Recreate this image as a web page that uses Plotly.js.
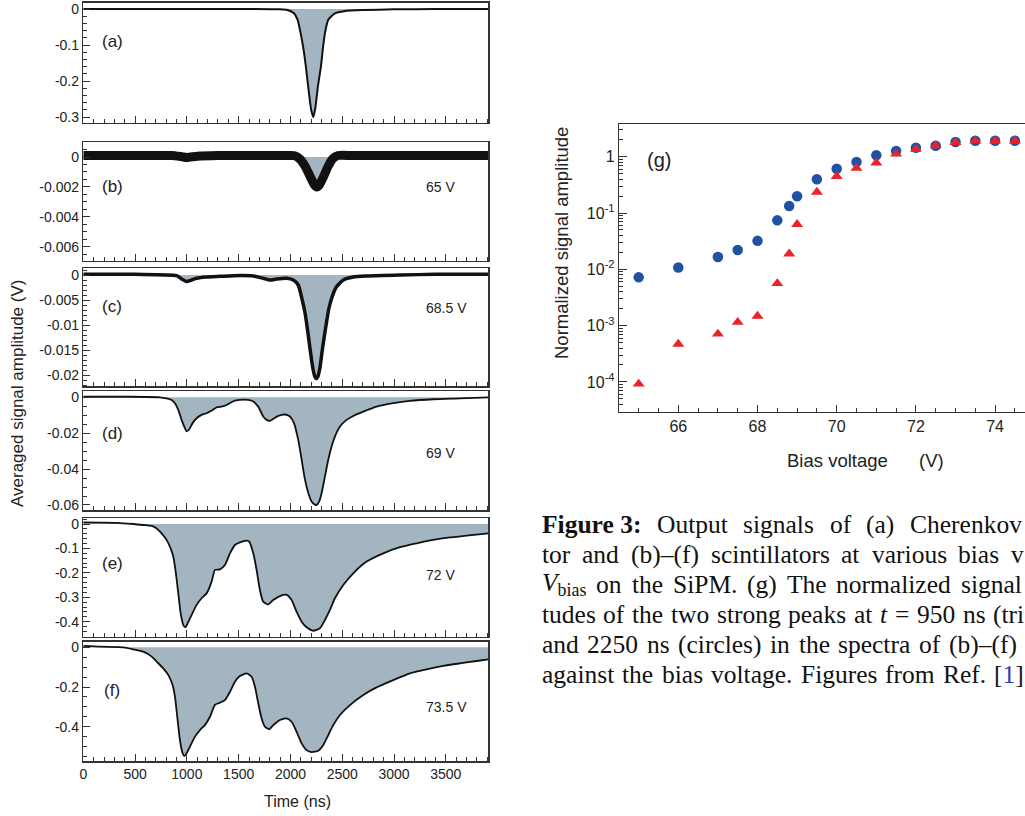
<!DOCTYPE html>
<html><head><meta charset="utf-8">
<script src="https://cdn.plot.ly/plotly-3.0.1.min.js"></script>
<style>html,body{margin:0;padding:0;background:#fff;overflow:hidden}#chart{width:1025px;height:816px}</style>
</head><body><div id="chart"></div>
<script>
// ---------- data: panels (a)-(f), time in ns, amplitude in V ----------
const timeA = [0, 400, 800, 1200, 1600, 1900, 1970, 2034, 2069, 2098, 2125, 2149, 2175, 2200, 2220, 2240, 2265, 2294, 2315, 2333, 2365, 2429, 2520, 2700, 3000, 3400, 3910];
const ampA  = [0, 0, 0, 0, 0, -0.001, -0.003, -0.012, -0.03, -0.067, -0.11, -0.16, -0.225, -0.28, -0.30, -0.275, -0.215, -0.16, -0.105, -0.067, -0.03, -0.012, -0.006, -0.003, -0.001, 0, 0];

const timeB = [0, 500, 850, 950, 1000, 1100, 1300, 1700, 2000, 2040, 2090, 2140, 2190, 2230, 2255, 2280, 2320, 2365, 2410, 2460, 2600, 3000, 3500, 3910];
const ampB  = [0.0001, 0.0001, 0.0001, 0.00002, -0.00003, 0.00005, 0.0001, 0.0001, 0.0001, 0.00008, -0.00013, -0.0006, -0.0013, -0.00185, -0.002, -0.00185, -0.0013, -0.0006, -0.0001, 0.0001, 0.0001, 0.0001, 0.0001, 0.0001];

const timeC = [0, 500, 900, 949, 997, 1046, 1094, 1190, 1319, 1448, 1641, 1737, 1802, 1866, 1963, 2027, 2075, 2108, 2140, 2165, 2188, 2215, 2235, 2250, 2265, 2285, 2310, 2340, 2370, 2397, 2440, 2510, 2606, 2735, 3057, 3400, 3910];
const ampC  = [0.00013, 0.00013, -0.00013, -0.0008, -0.0013, -0.001, -0.00066, -0.0004, -0.00027, -0.00013, -0.0002, -0.00066, -0.001, -0.0008, -0.00066, -0.001, -0.002, -0.0045, -0.0075, -0.011, -0.0146, -0.0185, -0.0203, -0.0207, -0.0203, -0.0185, -0.0146, -0.0105, -0.0068, -0.0047, -0.0025, -0.001, -0.0004, -0.0002, 0, 0.00013, 0.00013];

const timeD = [0, 400, 740, 804, 853, 885, 917, 949, 981, 997, 1023, 1055, 1094, 1142, 1190, 1239, 1287, 1335, 1384, 1448, 1512, 1593, 1641, 1689, 1737, 1770, 1802, 1834, 1882, 1947, 1995, 2034, 2075, 2108, 2140, 2172, 2204, 2236, 2252, 2278, 2301, 2333, 2365, 2397, 2429, 2478, 2542, 2606, 2703, 2831, 2992, 3153, 3378, 3636, 3910];
const ampD  = [0.0003, 0.0003, 0, -0.0006, -0.0015, -0.0033, -0.007, -0.0126, -0.0172, -0.019, -0.0178, -0.0144, -0.0117, -0.0098, -0.0089, -0.0074, -0.0056, -0.0052, -0.0043, -0.0022, -0.0015, -0.0015, -0.0024, -0.0052, -0.0107, -0.0126, -0.0131, -0.012, -0.0104, -0.0096, -0.0107, -0.0144, -0.0237, -0.0348, -0.0459, -0.0533, -0.058, -0.0598, -0.06, -0.058, -0.0533, -0.0441, -0.0348, -0.0274, -0.0219, -0.0163, -0.0126, -0.0104, -0.008, -0.0052, -0.0033, -0.002, -0.0011, -0.0006, 0];

const timeE = [0, 322, 483, 579, 660, 708, 756, 804, 843, 869, 894, 917, 940, 965, 985, 1007, 1046, 1094, 1142, 1190, 1239, 1271, 1319, 1367, 1416, 1464, 1512, 1577, 1602, 1641, 1673, 1705, 1737, 1786, 1834, 1898, 1963, 2011, 2059, 2108, 2156, 2220, 2284, 2333, 2381, 2429, 2510, 2606, 2735, 2896, 3057, 3218, 3378, 3539, 3700, 3910];
const ampE  = [0.007, 0.005, 0, -0.004, -0.008, -0.018, -0.038, -0.065, -0.10, -0.134, -0.202, -0.284, -0.366, -0.413, -0.423, -0.407, -0.372, -0.331, -0.304, -0.284, -0.236, -0.188, -0.186, -0.168, -0.12, -0.086, -0.075, -0.068, -0.072, -0.12, -0.188, -0.27, -0.318, -0.329, -0.311, -0.295, -0.29, -0.311, -0.359, -0.40, -0.423, -0.437, -0.427, -0.393, -0.352, -0.304, -0.25, -0.202, -0.154, -0.12, -0.095, -0.079, -0.065, -0.055, -0.048, -0.038];

const timeF = [0, 161, 386, 483, 579, 660, 708, 772, 820, 862, 885, 907, 933, 959, 975, 997, 1030, 1078, 1126, 1174, 1223, 1271, 1319, 1367, 1416, 1464, 1512, 1577, 1625, 1657, 1689, 1721, 1753, 1795, 1834, 1898, 1963, 2011, 2059, 2108, 2156, 2204, 2268, 2317, 2365, 2413, 2478, 2574, 2703, 2831, 2992, 3153, 3314, 3475, 3636, 3797, 3910];
const ampF  = [0.007, 0.003, 0, -0.01, -0.022, -0.047, -0.072, -0.106, -0.139, -0.19, -0.249, -0.35, -0.467, -0.534, -0.548, -0.534, -0.50, -0.45, -0.417, -0.392, -0.35, -0.29, -0.279, -0.266, -0.224, -0.173, -0.145, -0.131, -0.148, -0.198, -0.282, -0.358, -0.40, -0.413, -0.392, -0.366, -0.358, -0.375, -0.425, -0.484, -0.518, -0.528, -0.521, -0.492, -0.442, -0.392, -0.341, -0.291, -0.24, -0.202, -0.165, -0.131, -0.111, -0.094, -0.081, -0.069, -0.061];

const panelLabels = ['(a)', '(b)', '(c)', '(d)', '(e)', '(f)'];
const biasLabels  = ['', '65 V', '68.5 V', '69 V', '72 V', '73.5 V'];

const tickValsA = [0, -0.1, -0.2, -0.3];            const tickTextA = ['0', '-0.1', '-0.2', '-0.3'];
const tickValsB = [0, -0.002, -0.004, -0.006];       const tickTextB = ['0', '-0.002', '-0.004', '-0.006'];
const tickValsC = [0, -0.005, -0.01, -0.015, -0.02]; const tickTextC = ['0', '-0.005', '-0.01', '-0.015', '-0.02'];
const tickValsD = [0, -0.02, -0.04, -0.06];          const tickTextD = ['0', '-0.02', '-0.04', '-0.06'];
const tickValsE = [0, -0.1, -0.2, -0.3, -0.4];       const tickTextE = ['0', '-0.1', '-0.2', '-0.3', '-0.4'];
const tickValsF = [0, -0.2, -0.4];                   const tickTextF = ['0', '-0.2', '-0.4'];

// ---------- data: panel (g) ----------
const biasCircles = [65, 66, 67, 67.5, 68, 68.5, 68.8, 69, 69.5, 70, 70.5, 71, 71.5, 72, 72.5, 73, 73.5, 74, 74.5];
const ampCircles  = [0.0072, 0.0108, 0.0166, 0.022, 0.032, 0.074, 0.133, 0.198, 0.397, 0.61, 0.805, 1.06, 1.26, 1.44, 1.57, 1.82, 1.92, 1.92, 1.92];
const biasTriangles = [65, 66, 67, 67.5, 68, 68.5, 68.8, 69, 69.5, 70, 70.5, 71, 71.5, 72, 72.5, 73, 73.5, 74, 74.5];
const ampTriangles  = [0.000092, 0.00047, 0.00071, 0.00115, 0.00148, 0.0056, 0.0189, 0.063, 0.236, 0.449, 0.63, 0.78, 1.12, 1.37, 1.57, 1.80, 1.92, 1.92, 1.92];
const gTickVals = [0.0001, 0.001, 0.01, 0.1, 1];
const gTickText = ['10<sup>-4</sup>', '10<sup>-3</sup>', '10<sup>-2</sup>', '10<sup>-1</sup>', '1'];

// ---------- caption (words per line, as far as the page shows them) ----------
const captionWords = [
  ['<b>Figure 3:</b>', 'Output', 'signals', 'of', '(a)', 'Cherenkov'],
  ['tor', 'and', '(b)–(f)', 'scintillators', 'at', 'various', 'bias', 'v'],
  ['<i>V</i><sub>bias</sub>', 'on', 'the', 'SiPM.', '(g)', 'The', 'normalized', 'signal'],
  ['tudes', 'of', 'the', 'two', 'strong', 'peaks', 'at', '<i>t</i>', '=', '950', 'ns', '(tri'],
  ['and', '2250', 'ns', '(circles)', 'in', 'the', 'spectra', 'of', '(b)–(f)'],
  ['against', 'the', 'bias', 'voltage.', 'Figures', 'from', 'Ref.', '[<span style="color:#3a3aa8">1</span>]']
];
// pixel x where the last word of each line ends (justified text)
const captionRight = [1021, 1023, 1021, 1023, 1016, 1023];
const captionY = [524, 554, 584, 614, 644, 674];

// ---------- layout helpers ----------
const W = 1025, H = 816;
const px = x => x / W;
const py = y => 1 - y / H;
const SANS = 'Liberation Sans, Arial, Helvetica, sans-serif';
const SERIF = 'Liberation Serif, Times New Roman, serif';
const CAP = 25.5;
const AX = '#333';
const FILL = '#a3b5c0';

const times = [timeA, timeB, timeC, timeD, timeE, timeF];
const amps = [ampA, ampB, ampC, ampD, ampE, ampF];
const widths = [2, 9, 3.5, 1.8, 1.8, 1.8];
const tickV = [tickValsA, tickValsB, tickValsC, tickValsD, tickValsE, tickValsF];
const tickT = [tickTextA, tickTextB, tickTextC, tickTextD, tickTextE, tickTextF];
const minorD = [0.02, 0.0005, 0.001, 0.005, 0.02, 0.05];
const tops = [2.7, 142.3, 268, 391, 518, 641.7];
const bots = [122.7, 260.5, 386, 510, 636.7, 761];
const yRanges = [[-0.3158, 0.0175], [-0.00692, 0.000983], [-0.0222, 0.0014], [-0.0628, 0.0035], [-0.4614, 0.0246], [-0.5728, 0.0282]];
const labelY = [41, 187, 306, 433, 563, 690];
const biasY = [0, 187, 308, 453, 575, 707];

const traces = [];
const layout = {
  width: W, height: H, margin: {l: 0, r: 0, t: 0, b: 0},
  paper_bgcolor: '#fff', plot_bgcolor: '#fff', showlegend: false,
  font: {family: SANS, color: '#222'},
  annotations: []
};

for (let i = 0; i < 6; i++) {
  const s = i === 0 ? '' : String(i + 1);
  traces.push({
    x: times[i], y: amps[i], xaxis: 'x' + s, yaxis: 'y' + s,
    type: 'scatter', mode: 'lines', fill: 'tozeroy', fillcolor: FILL,
    line: {color: '#111', width: widths[i], shape: 'spline', smoothing: 0.6},
    hoverinfo: 'skip'
  });
  layout['xaxis' + s] = {
    domain: [px(83.3), px(488.3)], anchor: 'y' + s, range: [0, 3910],
    showline: true, mirror: true, linecolor: AX, linewidth: 1.5,
    ticks: 'inside', ticklen: 7, tickwidth: 1, tickcolor: AX,
    tick0: 0, dtick: 500, showgrid: false, zeroline: false,
    showticklabels: i === 5, tickfont: {size: 14, family: SANS, color: '#222'},
    minor: {tick0: 0, dtick: 100, ticks: 'inside', ticklen: 4, tickcolor: AX, showgrid: false}
  };
  layout['yaxis' + s] = {
    domain: [py(bots[i]), py(tops[i])], anchor: 'x' + s, range: yRanges[i],
    showline: true, mirror: true, linecolor: AX, linewidth: 1.5,
    ticks: 'inside', ticklen: 7, tickwidth: 1, tickcolor: AX,
    tickmode: 'array', tickvals: tickV[i], ticktext: tickT[i],
    showgrid: false, zeroline: false,
    tickfont: {size: 14, family: SANS, color: '#222'},
    minor: {tick0: 0, dtick: minorD[i], ticks: 'inside', ticklen: 4, tickcolor: AX, showgrid: false}
  };
  layout.annotations.push({xref: 'paper', yref: 'paper', x: px(112), y: py(labelY[i]),
    text: panelLabels[i], showarrow: false, xanchor: 'center', yanchor: 'middle',
    font: {size: 17, family: SANS, color: '#222'}});
  if (biasLabels[i]) layout.annotations.push({xref: 'paper', yref: 'paper', x: px(424), y: py(biasY[i]),
    text: biasLabels[i], showarrow: false, xanchor: 'left', yanchor: 'middle',
    font: {size: 14, family: SANS, color: '#222'}});
}

layout.annotations.push({xref: 'paper', yref: 'paper', x: px(17), y: py(394), text: 'Averaged signal amplitude (V)',
  textangle: -90, showarrow: false, xanchor: 'center', yanchor: 'middle', font: {size: 17, family: SANS, color: '#222'}});
layout.annotations.push({xref: 'paper', yref: 'paper', x: px(297.5), y: py(801.5), text: 'Time (ns)',
  showarrow: false, xanchor: 'center', yanchor: 'middle', font: {size: 16, family: SANS, color: '#222'}});

// panel (g)
traces.push({x: biasCircles, y: ampCircles, xaxis: 'x7', yaxis: 'y7', type: 'scatter', mode: 'markers',
  marker: {symbol: 'circle', size: 10.5, color: '#1f52a3'}, hoverinfo: 'skip'});
traces.push({x: biasTriangles, y: ampTriangles, xaxis: 'x7', yaxis: 'y7', type: 'scatter', mode: 'markers',
  marker: {symbol: 'triangle-up', size: 10.5, color: '#e8242a'}, hoverinfo: 'skip'});

const minorLog = [];
for (let e = -5; e <= 0; e++) for (let d = 2; d <= 9; d++) minorLog.push(d * Math.pow(10, e));

layout.xaxis7 = {
  domain: [px(619.3), 1], anchor: 'y7', range: [64.51, 74.755],
  showline: true, mirror: true, linecolor: AX, linewidth: 1.5,
  ticks: 'inside', ticklen: 7, tickcolor: AX, tick0: 64, dtick: 2,
  showgrid: false, zeroline: false, tickfont: {size: 16, family: SANS, color: '#222'},
  minor: {tick0: 64, dtick: 0.5, ticks: 'inside', ticklen: 4, tickcolor: AX, showgrid: false}
};
layout.yaxis7 = {
  type: 'log', domain: [py(411.7), py(124)], anchor: 'x7', range: [-4.529, 0.581],
  showline: true, mirror: false, linecolor: AX, linewidth: 1.5,
  ticks: 'inside', ticklen: 8, tickcolor: AX,
  tickmode: 'array', tickvals: gTickVals, ticktext: gTickText,
  showgrid: false, zeroline: false, tickfont: {size: 16, family: SANS, color: '#222'},
  minor: {tickmode: 'array', tickvals: minorLog, ticks: 'inside', ticklen: 4, tickcolor: AX, showgrid: false}
};
layout.annotations.push({xref: 'paper', yref: 'paper', x: px(659), y: py(160), text: '(g)',
  showarrow: false, xanchor: 'center', yanchor: 'middle', font: {size: 20, family: SANS, color: '#222'}});
layout.annotations.push({xref: 'paper', yref: 'paper', x: px(561), y: py(243), text: 'Normalized signal amplitude',
  textangle: -90, showarrow: false, xanchor: 'center', yanchor: 'middle', font: {size: 18.5, family: SANS, color: '#222'}});
layout.annotations.push({xref: 'paper', yref: 'paper', x: px(785), y: py(460), text: 'Bias voltage',
  showarrow: false, xanchor: 'left', yanchor: 'middle', font: {size: 18.5, family: SANS, color: '#222'}});
layout.annotations.push({xref: 'paper', yref: 'paper', x: px(917), y: py(460), text: '(V)',
  showarrow: false, xanchor: 'left', yanchor: 'middle', font: {size: 18.5, family: SANS, color: '#222'}});

// caption: justified word placement, widths measured with a canvas
const ctx = document.createElement('canvas').getContext('2d');
function measure(html) {
  let w = 0;
  const sub = html.match(/<sub>(.*?)<\/sub>/);
  let main = html.replace(/<sub>.*?<\/sub>/g, '');
  const bold = /<b>/.test(main), ital = /<i>/.test(main);
  main = main.replace(/<[^>]+>/g, '');
  ctx.font = (ital ? 'italic ' : '') + (bold ? 'bold ' : '') + CAP + 'px "Liberation Serif"';
  w += ctx.measureText(main).width;
  if (sub) { ctx.font = Math.round(CAP * 0.7) + 'px "Liberation Serif"'; w += ctx.measureText(sub[1]).width; }
  return w;
}
captionWords.forEach((words, k) => {
  const ws = words.map(measure);
  const start = 541;
  const total = ws.reduce((a, b) => a + b, 0);
  const gap = (captionRight[k] - start - total) / (words.length - 1);
  let x = start;
  words.forEach((t, j) => {
    layout.annotations.push({xref: 'paper', yref: 'paper', x: px(x), y: py(captionY[k]),
      text: t, showarrow: false, xanchor: 'left', yanchor: 'middle', borderpad: 0,
      font: {size: CAP, family: SERIF, color: '#111'}});
    x += ws[j] + gap;
  });
});

Plotly.newPlot('chart', traces, layout, {staticPlot: true, displayModeBar: false});
</script></body></html>
